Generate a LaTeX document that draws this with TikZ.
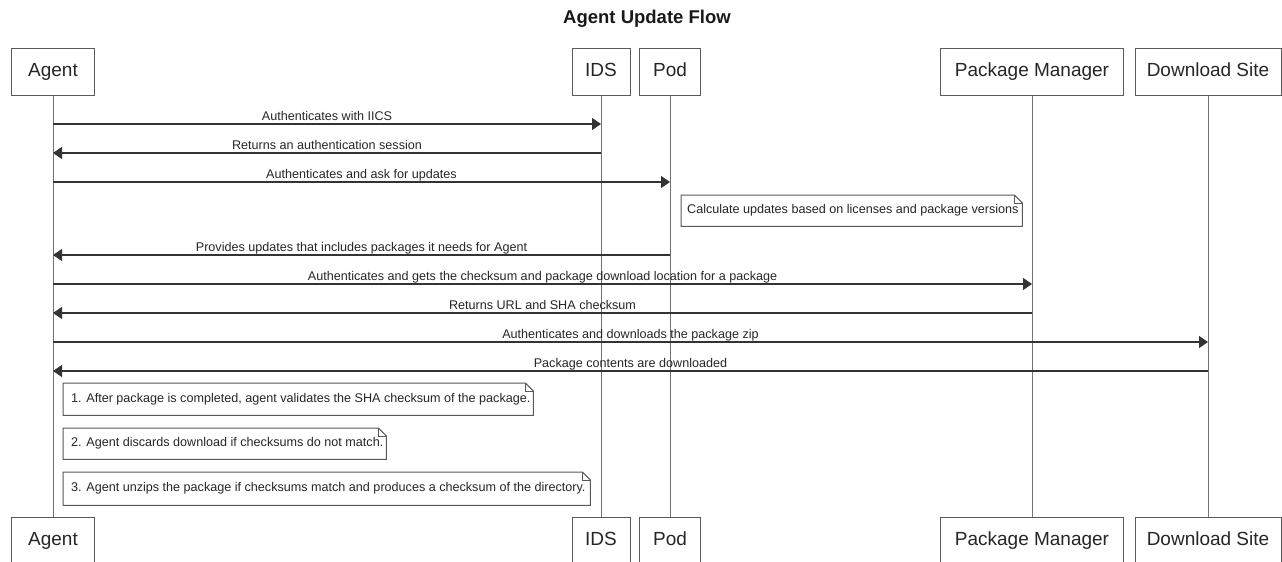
\documentclass[tikz,border=0pt]{standalone}
\usepackage{fontspec}
\setmainfont{Liberation Sans}
\usetikzlibrary{arrows.meta}

% outline of a note with a folded top-right corner, drawn round a named node
\newcommand\notefold[1]{%
  \draw[notedraw] (#1.north west) -- ([xshift=-8pt]#1.north east)
     -- ([yshift=-8pt]#1.north east) -- (#1.south east) -- (#1.south west) -- cycle;
  \draw[notedraw, fill=none] ([xshift=-8pt]#1.north east) |- ([yshift=-8pt]#1.north east);
}

\begin{document}
\begin{tikzpicture}[x=1pt, y=-1pt,
  participant/.style={draw=black!65, line width=1pt, fill=white,
    minimum height=47pt, inner sep=0pt, text=black!85,
    text height=13.6pt, text depth=4pt,
    font=\fontsize{19}{22}\selectfont},
  life/.style={draw=black!55, line width=1pt},
  msg/.style={draw=black!80, line width=1.2pt, -{Triangle[length=9pt,width=12pt]}},
  lbl/.style={midway, anchor=base, yshift=4pt, inner sep=0pt, text=black!85,
    font=\fontsize{12.6}{14}\selectfont},
  notebox/.style={anchor=north west, inner sep=0pt},
  notetext/.style={anchor=west, inner sep=0pt, text=black!85,
    font=\fontsize{12.6}{14}\selectfont},
  notedraw/.style={draw=black!65, line width=1pt, fill=white}
]
\useasboundingbox (0,0) rectangle (1282,562);
\clip (0,0) rectangle (1282,562);

% title
\node[font=\bfseries\fontsize{18.5}{20}\selectfont, text=black!90] (title) at (647,19) {Agent Update Flow};

% participants, top row
\node[participant, minimum width=83pt]  (agentT) at (53,71.5)   {Agent};
\node[participant, minimum width=58pt]  (idsT)   at (601,71.5)  {IDS};
\node[participant, minimum width=61pt]  (podT)   at (670,71.5)  {Pod};
\node[participant, minimum width=183pt] (pmT)    at (1032,71.5) {Package Manager};
\node[participant, minimum width=146pt] (dsT)    at (1208,71.5) {Download Site};

% participants, bottom row
\node[participant, minimum width=83pt]  (agentB) at (53,540.5)   {Agent};
\node[participant, minimum width=58pt]  (idsB)   at (601,540.5)  {IDS};
\node[participant, minimum width=61pt]  (podB)   at (670,540.5)  {Pod};
\node[participant, minimum width=183pt] (pmB)    at (1032,540.5) {Package Manager};
\node[participant, minimum width=146pt] (dsB)    at (1208,540.5) {Download Site};

% lifelines
\draw[life] (agentT.south) -- (agentB.north);
\draw[life] (idsT.south) -- (idsB.north);
\draw[life] (podT.south) -- (podB.north);
\draw[life] (pmT.south) -- (pmB.north);
\draw[life] (dsT.south) -- (dsB.north);

% message rows
\coordinate (y1) at (0,124);
\coordinate (y2) at (0,153);
\coordinate (y3) at (0,182);
\coordinate (y4) at (0,255);
\coordinate (y5) at (0,284);
\coordinate (y6) at (0,313);
\coordinate (y7) at (0,342);
\coordinate (y8) at (0,371);

\draw[msg] (agentT |- y1) -- (idsT |- y1) node[lbl] {Authenticates with IICS};
\draw[msg] (idsT |- y2) -- (agentT |- y2) node[lbl] {Returns an authentication session};
\draw[msg] (agentT |- y3) -- (podT |- y3) node[lbl] {Authenticates and ask for updates};

% note at the Pod
\node[notebox, minimum width=341pt, minimum height=31pt] (calc) at (681,195) {};
\notefold{calc}
\node[notetext] (calcT) at ([xshift=6pt]calc.west) {Calculate updates based on licenses and package versions};

\draw[msg] (podT |- y4) -- (agentT |- y4) node[lbl] {Provides updates that includes packages it needs for Agent};
\draw[msg] (agentT |- y5) -- (pmT |- y5) node[lbl] {Authenticates and gets the checksum and package download location for a package};
\draw[msg] (pmT |- y6) -- (agentT |- y6) node[lbl] {Returns URL and SHA checksum};
\draw[msg] (agentT |- y7) -- (dsT |- y7) node[lbl] {Authenticates and downloads the package zip};
\draw[msg] (dsT |- y8) -- (agentT |- y8) node[lbl] {Package contents are downloaded};

% notes at the Agent
\node[notebox, minimum width=470pt, minimum height=32pt] (note1) at (63,383) {};
\notefold{note1}
\node[notetext] (note1T) at ([xshift=8pt]note1.west) {1. After package is completed, agent validates the SHA checksum of the package.};

\node[notebox, minimum width=323pt, minimum height=31pt] (note2) at (63,428) {};
\notefold{note2}
\node[notetext] (note2T) at ([xshift=8pt]note2.west) {2. Agent discards download if checksums do not match.};

\node[notebox, minimum width=527pt, minimum height=33pt] (note3) at (63,472) {};
\notefold{note3}
\node[notetext] (note3T) at ([xshift=8pt]note3.west) {3. Agent unzips the package if checksums match and produces a checksum of the directory.};

\end{tikzpicture}
\end{document}
